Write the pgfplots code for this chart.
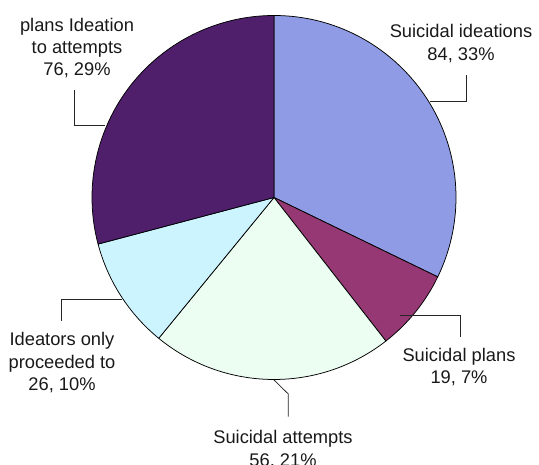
\documentclass[border=0pt]{standalone}
\usepackage{pgfplots}
\usepackage{pgfplotstable}
\pgfplotsset{compat=1.18}
\usepackage{fontspec}
\setmainfont{Liberation Sans}

\definecolor{cIdeations}{HTML}{8F9CE5}
\definecolor{cPlans}{HTML}{963873}
\definecolor{cAttempts}{HTML}{ECFDF2}
\definecolor{cIdeators}{HTML}{CCF4FF}
\definecolor{cPlanIdea}{HTML}{4F1F6B}

\pgfplotstableread{
label value
ideations 84
plans 19
attempts 56
ideators 26
planideation 76
}\piedata

\newcommand\slice[2]{%
  \edef\tmp{\noexpand\filldraw[fill=#2, draw=black, line width=0.75pt, line join=round]
    (axis cs:274,267.5) -- ++(\csname angs#1\endcsname:182pt)
    arc[start angle=\csname angs#1\endcsname, end angle=\csname ange#1\endcsname, radius=182pt] -- cycle;}%
  \tmp
}

\begin{document}%
\begin{tikzpicture}
% cumulative angles from the data
\xdef\total{0}
\foreach \i in {0,...,4}{%
  \pgfplotstablegetelem{\i}{value}\of\piedata
  \pgfmathsetmacro\t{\total+\pgfplotsretval}%
  \xdef\total{\t}%
}
\xdef\cum{90}
\foreach \i in {0,...,4}{%
  \pgfplotstablegetelem{\i}{value}\of\piedata
  \expandafter\xdef\csname angs\i\endcsname{\cum}%
  \pgfmathsetmacro\e{\cum-360*(\pgfplotsretval/\total)}%
  \expandafter\xdef\csname ange\i\endcsname{\e}%
  \xdef\cum{\e}%
}
\begin{axis}[
  width=539pt, height=465pt, scale only axis,
  xmin=0, xmax=539, ymin=0, ymax=465,
  hide axis, clip=false,
]
\slice{0}{cIdeations}
\slice{1}{cPlans}
\slice{2}{cAttempts}
\slice{3}{cIdeators}
\slice{4}{cPlanIdea}

\tikzset{lead/.style={draw=black!85, line width=0.75pt}}
\draw[lead] (axis cs:430,363.3) -- (axis cs:466,363.3) -- (axis cs:466,390);
\draw[lead] (axis cs:105,340) -- (axis cs:74,340) -- (axis cs:74,375);
\draw[lead] (axis cs:121.7,165.7) -- (axis cs:61,165.7) -- (axis cs:61,144);
\draw[lead] (axis cs:400,150) -- (axis cs:460,150) -- (axis cs:460,128.3);
\draw[lead] (axis cs:274,85) -- (axis cs:288.3,71) -- (axis cs:288.3,48.3);

\tikzset{lab/.style={align=center, inner sep=0pt, text=black!90,
  font=\fontsize{18.3}{22.3}\selectfont}}
\node[lab] at (axis cs:461,421.5) {Suicidal ideations\\84, 33\%};
\node[lab] at (axis cs:77,417) {plans Ideation\\to attempts\\76, 29\%};
\node[lab] at (axis cs:62,102.3) {Ideators only\\proceeded to\\26, 10\%};
\node[lab] at (axis cs:459,98) {Suicidal plans\\19, 7\%};
\node[lab] at (axis cs:283,15.5) {Suicidal attempts\\56, 21\%};
\end{axis}
\pgfresetboundingbox
\useasboundingbox (0,0) rectangle (539pt,465pt);
\end{tikzpicture}%
\end{document}
